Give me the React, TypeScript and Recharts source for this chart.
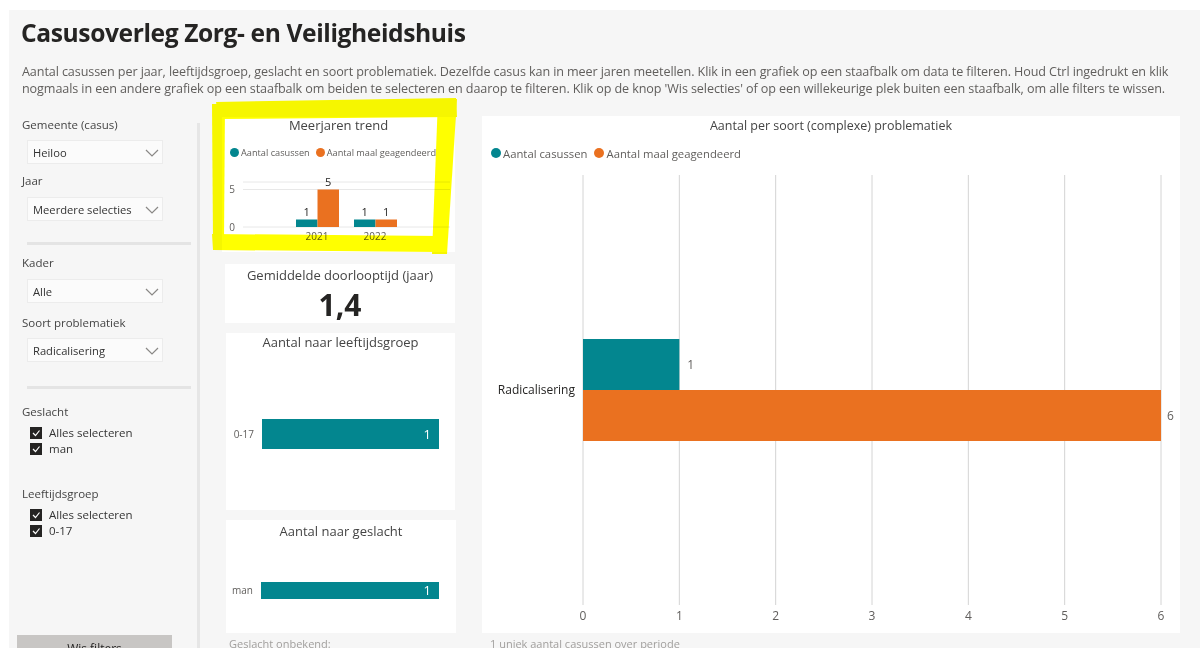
import React from "react";
import { BarChart, Bar, XAxis, YAxis, CartesianGrid, LabelList } from "recharts";

const TEAL = "#03868f";
const ORANGE = "#ea7120";
const FONT = "'Open Sans', 'Noto Sans', sans-serif";

// Meerjaren trend
const years = ["2021", "2022"];
const yearCasussen = [1, 1];
const yearGeagendeerd = [5, 1];
const yearTicks = [0, 5];

// Aantal per soort problematiek
const problemTypes = ["Radicalisering"];
const problemCasussen = [1];
const problemGeagendeerd = [6];
const problemTicks = [0, 1, 2, 3, 4, 5, 6];

// leeftijdsgroep / geslacht
const ageGroups = ["0-17"];
const ageCounts = [1];
const genders = ["man"];
const genderCounts = [1];

const trendData = years.map((y, i) => ({ name: y, casussen: yearCasussen[i], geagendeerd: yearGeagendeerd[i] }));
const problemData = problemTypes.map((p, i) => ({ name: p, casussen: problemCasussen[i], geagendeerd: problemGeagendeerd[i] }));
const ageData = ageGroups.map((a, i) => ({ name: a, value: ageCounts[i] }));
const genderData = genders.map((g, i) => ({ name: g, value: genderCounts[i] }));

const abs = (left: number, top: number, extra: React.CSSProperties = {}): React.CSSProperties => ({
  position: "absolute",
  left,
  top,
  ...extra,
});

function Label({ y, text }: { y: number; text: string }) {
  return <div style={abs(22, y - 8, { fontSize: 11.5, lineHeight: "16px", color: "#444" })}>{text}</div>;
}

function Dropdown({ y, text }: { y: number; text: string }) {
  return (
    <div style={abs(27, y, { width: 136, height: 24, background: "#fbfbfb", border: "1px solid #ececec", boxSizing: "border-box" })}>
      <div style={abs(5, 0, { fontSize: 11.2, lineHeight: "23px", color: "#333" })}>{text}</div>
      <svg style={abs(117, 7)} width="14" height="10">
        <polyline points="1,2 7,8 13,2" fill="none" stroke="#8a8886" strokeWidth="1.2" />
      </svg>
    </div>
  );
}

function Check({ y, text }: { y: number; text: string }) {
  return (
    <>
      <svg style={abs(30, y - 6)} width="12" height="12">
        <rect x="0" y="0" width="12" height="12" fill="#252423" />
        <polyline points="3,6 5.5,8.5 9.5,3.5" fill="none" stroke="#fff" strokeWidth="1.2" />
      </svg>
      <div style={abs(49, y - 9, { fontSize: 11.5, lineHeight: "18px", color: "#333" })}>{text}</div>
    </>
  );
}

function Legend({ x, y, size, dot, gap }: { x: number; y: number; size: number; dot: number; gap: number }) {
  const items = [
    { color: TEAL, text: "Aantal casussen" },
    { color: ORANGE, text: "Aantal maal geagendeerd" },
  ];
  return (
    <div style={abs(x, y - 8, { display: "flex", alignItems: "center", height: 16, fontSize: size, color: "#605e5c", whiteSpace: "nowrap" })}>
      {items.map((it) => (
        <div key={it.text} style={{ display: "flex", alignItems: "center", marginRight: gap }}>
          <span style={{ width: dot, height: dot, borderRadius: "50%", background: it.color, display: "inline-block", marginRight: 2 }} />
          <span>{it.text}</span>
        </div>
      ))}
    </div>
  );
}

function Card({ x, y, w, h, title, titleY, titleSize = 13, children }: any) {
  return (
    <div style={abs(x, y, { width: w, height: h, background: "#fff" })}>
      {title && (
        <div style={abs(0, titleY - y - 9, { width: w, textAlign: "center", fontSize: titleSize, lineHeight: "18px", color: "#444" })}>{title}</div>
      )}
      {children}
    </div>
  );
}

export default function App() {
  const axisTick = { fill: "#605e5c", fontSize: 10, fontFamily: FONT };
  return (
    <div style={{ position: "fixed", left: 0, top: 0, width: 1200, height: 648, background: "#fff", overflow: "hidden", fontFamily: FONT }}>
      <div style={abs(9, 10, { width: 1191, height: 638, background: "#f6f6f6" })} />

      <div style={abs(21, 15, { fontSize: 24.6, fontWeight: 700, color: "#252423", lineHeight: "36px", letterSpacing: -0.4, whiteSpace: "nowrap" })}>
        Casusoverleg Zorg- en Veiligheidshuis
      </div>
      <div style={abs(22, 63, { fontSize: 12.6, color: "#605e5c", lineHeight: "17px", whiteSpace: "nowrap", letterSpacing: -0.1 })}>
        Aantal casussen per jaar, leeftijdsgroep, geslacht en soort problematiek. Dezelfde casus kan in meer jaren meetellen. Klik in een grafiek op een staafbalk om data te filteren. Houd Ctrl ingedrukt en klik
        <br />
        nogmaals in een andere grafiek op een staafbalk om beiden te selecteren en daarop te filteren. Klik op de knop 'Wis selecties' of op een willekeurige plek buiten een staafbalk, om alle filters te wissen.
      </div>

      {/* slicers */}
      <Label y={125} text="Gemeente (casus)" />
      <Dropdown y={140} text="Heiloo" />
      <Label y={181} text="Jaar" />
      <Dropdown y={197} text="Meerdere selecties" />
      <div style={abs(27, 242, { width: 164, height: 3, background: "#e4e4e4" })} />
      <Label y={263} text="Kader" />
      <Dropdown y={279} text="Alle" />
      <Label y={323} text="Soort problematiek" />
      <Dropdown y={338} text="Radicalisering" />
      <div style={abs(27, 386, { width: 164, height: 3, background: "#e4e4e4" })} />
      <Label y={412} text="Geslacht" />
      <Check y={433} text="Alles selecteren" />
      <Check y={449} text="man" />
      <Label y={494} text="Leeftijdsgroep" />
      <Check y={515} text="Alles selecteren" />
      <Check y={531} text="0-17" />
      <div style={abs(197, 123, { width: 3, height: 525, background: "#e6e6e6" })} />
      <div style={abs(17, 635, { width: 155, height: 30, background: "#c8c6c4", textAlign: "center", fontSize: 12, lineHeight: "28px", color: "#252423" })}>
        Wis filters
      </div>

      {/* Meerjaren trend */}
      <Card x={222} y={117} w={233} h={135} title="Meerjaren trend" titleY={125}>
        <Legend x={8} y={35} size={9.2} dot={9} gap={6} />
        <div style={abs(0, 43)}>
          <BarChart width={233} height={92} data={trendData} margin={{ top: 22, right: 5, bottom: 0, left: 0 }} barGap={0} barSize={21.5}>
            <CartesianGrid vertical={false} stroke="#e8e8e8" />
            <XAxis dataKey="name" axisLine={false} tickLine={false} height={25} tickMargin={0} padding={{ left: 45, right: 46 }} tick={axisTick} interval={0} />
            <YAxis domain={[0, 6]} ticks={yearTicks} width={21} axisLine={false} tickLine={false} tick={axisTick} />
            <Bar dataKey="casussen" fill={TEAL} isAnimationActive={false}>
              <LabelList dataKey="casussen" position="top" offset={4} fill="#252423" fontSize={11} fontFamily={FONT} />
            </Bar>
            <Bar dataKey="geagendeerd" fill={ORANGE} isAnimationActive={false}>
              <LabelList dataKey="geagendeerd" position="top" offset={4} fill="#252423" fontSize={11} fontFamily={FONT} />
            </Bar>
          </BarChart>
        </div>
      </Card>

      {/* Gemiddelde doorlooptijd */}
      <Card x={225} y={264} w={230} h={59} title="Gemiddelde doorlooptijd (jaar)" titleY={275}>
        <div style={abs(0, 22, { width: 230, textAlign: "center", fontSize: 30, fontWeight: 700, lineHeight: "38px", color: "#252423" })}>1,4</div>
      </Card>

      {/* Aantal naar leeftijdsgroep */}
      <Card x={226} y={333} w={229} h={177} title="Aantal naar leeftijdsgroep" titleY={342}>
        <div style={abs(0, 27)}>
          <BarChart width={229} height={148} layout="vertical" data={ageData} margin={{ top: 0, right: 16, bottom: 0, left: 0 }} barSize={30}>
            <XAxis type="number" domain={[0, 1]} hide />
            <YAxis type="category" dataKey="name" width={36} axisLine={false} tickLine={false} tick={axisTick} />
            <Bar dataKey="value" fill={TEAL} isAnimationActive={false}>
              <LabelList dataKey="value" position="insideRight" offset={8} fill="#fff" fontSize={13} fontFamily={FONT} />
            </Bar>
          </BarChart>
        </div>
      </Card>

      {/* Aantal naar geslacht */}
      <Card x={226} y={520} w={230} h={113} title="Aantal naar geslacht" titleY={531}>
        <div style={abs(0, 30)}>
          <BarChart width={230} height={80} layout="vertical" data={genderData} margin={{ top: 0, right: 17, bottom: 0, left: 0 }} barSize={17}>
            <XAxis type="number" domain={[0, 1]} hide />
            <YAxis type="category" dataKey="name" width={35} axisLine={false} tickLine={false} tick={axisTick} />
            <Bar dataKey="value" fill={TEAL} isAnimationActive={false}>
              <LabelList dataKey="value" position="insideRight" offset={8} fill="#fff" fontSize={13} fontFamily={FONT} />
            </Bar>
          </BarChart>
        </div>
      </Card>

      {/* Aantal per soort problematiek */}
      <Card x={482} y={116} w={698} h={517} title="Aantal per soort (complexe) problematiek" titleY={126} titleSize={12.5}>
        <Legend x={9} y={37} size={11.3} dot={10} gap={7} />
        <div style={abs(0, 49)}>
          <BarChart width={698} height={468} layout="vertical" data={problemData} margin={{ top: 10, right: 19, bottom: 0, left: 0 }} barGap={0} barSize={51}>
            <CartesianGrid horizontal={false} stroke="#d4d4d4" />
            <XAxis type="number" domain={[0, 6]} ticks={problemTicks} interval={0} axisLine={false} tickLine={false} height={28} tickMargin={0} tick={{ ...axisTick, fontSize: 12 }} />
            <YAxis type="category" dataKey="name" width={101} axisLine={false} tickLine={false} tick={{ ...axisTick, fontSize: 12, fill: "#252423" }} />
            <Bar dataKey="casussen" fill={TEAL} isAnimationActive={false}>
              <LabelList dataKey="casussen" position="right" offset={8} fill="#605e5c" fontSize={12} fontFamily={FONT} />
            </Bar>
            <Bar dataKey="geagendeerd" fill={ORANGE} isAnimationActive={false}>
              <LabelList dataKey="geagendeerd" position="right" offset={6} fill="#605e5c" fontSize={12} fontFamily={FONT} />
            </Bar>
          </BarChart>
        </div>
      </Card>

      <div style={abs(229, 636, { fontSize: 11, color: "#a19f9d", whiteSpace: "nowrap" })}>Geslacht onbekend:</div>
      <div style={abs(490, 636, { fontSize: 11, color: "#a19f9d", whiteSpace: "nowrap" })}>1 uniek aantal casussen over periode</div>

      {/* yellow highlighter marking */}
      <svg style={abs(0, 0, { pointerEvents: "none", mixBlendMode: "multiply" })} width="1200" height="648">
        <g fill="#ffff00">
          <polygon points="216,102 456,98 457,117 219,119" />
          <polygon points="212,104 225,104 224,240 213,242" />
          <polygon points="438,99 457,99 447,254 432,254" />
          <polygon points="212,234 440,236 439,252 213,250" />
        </g>
      </svg>
    </div>
  );
}
